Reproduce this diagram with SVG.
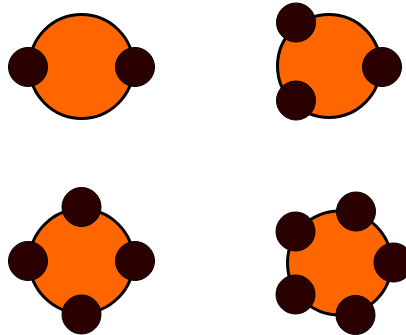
<svg xmlns="http://www.w3.org/2000/svg" width="406" height="335" viewBox="0 0 406 335">
<style>
.big{fill:#ff6600;stroke:#000;stroke-width:3}
.sm{fill:#2b0000;stroke:#000;stroke-width:1}
</style>
<rect width="406" height="335" fill="#fff"/>
<g id="node-2">
<circle class="big" cx="81.5" cy="66.5" r="52"/>
<circle class="sm" cx="28" cy="67" r="19.5"/>
<circle class="sm" cx="135" cy="67" r="19.5"/>
</g>
<g id="node-3">
<circle class="big" cx="329" cy="66" r="51.5"/>
<circle class="sm" cx="382" cy="67" r="19.5"/>
<circle class="sm" cx="296" cy="22.5" r="19.5"/>
<circle class="sm" cx="296" cy="100.5" r="19.5"/>
</g>
<g id="node-4">
<circle class="big" cx="81.5" cy="261" r="52"/>
<circle class="sm" cx="81.5" cy="207" r="19.5"/>
<circle class="sm" cx="28" cy="261" r="19.5"/>
<circle class="sm" cx="135" cy="261" r="19.5"/>
<circle class="sm" cx="81.5" cy="314.5" r="19.5"/>
</g>
<g id="node-5">
<circle class="big" cx="339.5" cy="263" r="52"/>
<circle class="sm" cx="356" cy="211.5" r="19.5"/>
<circle class="sm" cx="393.5" cy="262.5" r="19.5"/>
<circle class="sm" cx="295.5" cy="231.5" r="19.5"/>
<circle class="sm" cx="295.5" cy="294.5" r="19.5"/>
<circle class="sm" cx="355.5" cy="315" r="19.5"/>
</g>
<g id="connectors"></g>
</svg>
